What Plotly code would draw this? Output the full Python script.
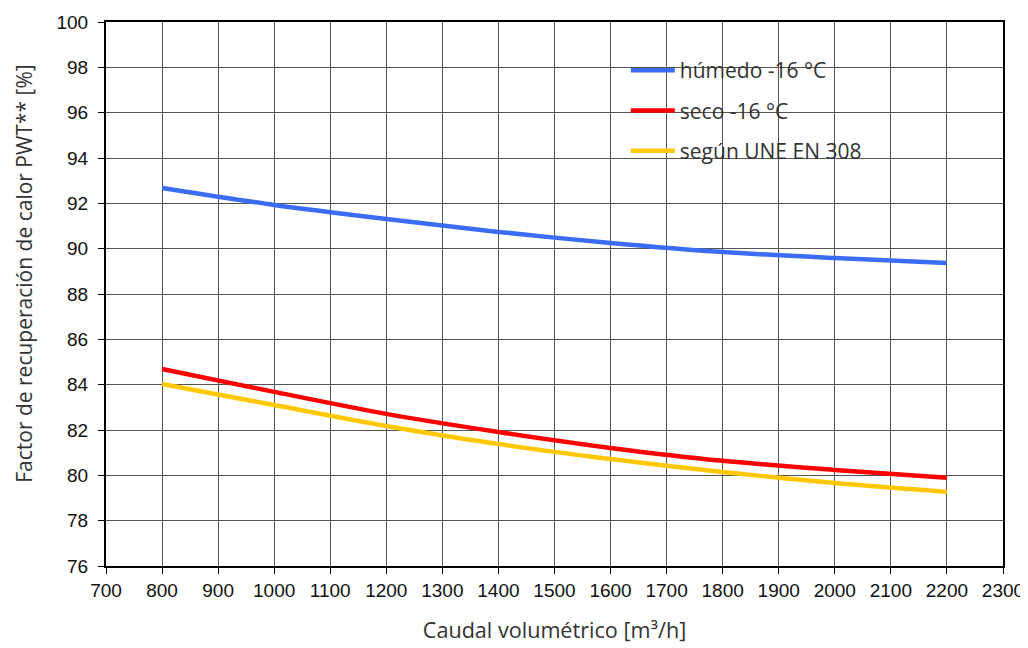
import plotly.graph_objects as go

flow = [800, 1000, 1200, 1400, 1600, 1800, 2000, 2200]
humedo = [92.68, 91.93, 91.31, 90.74, 90.25, 89.85, 89.59, 89.37]
seco = [84.69, 83.68, 82.71, 81.91, 81.21, 80.64, 80.24, 79.89]
une = [84.03, 83.10, 82.18, 81.38, 80.72, 80.15, 79.66, 79.27]

series = [
    ("húmedo -16 °C", humedo, "#3a6cf5"),
    ("seco -16 °C", seco, "#ff0000"),
    ("según UNE EN 308", une, "#ffc800"),
]

TXT = "#333333"

fig = go.Figure()
for i, (name, vals, col) in enumerate(series):
    fig.add_trace(go.Scatter(
        x=flow, y=vals, name=name, mode="lines",
        line=dict(color=col, width=4.5, shape="spline", smoothing=0.8),
        legendgroup=f"g{i}",
    ))

axis_common = dict(
    showline=True, linecolor="black", linewidth=2, mirror=True,
    showgrid=True, gridcolor="#555555", gridwidth=1,
    ticks="outside", ticklen=6, tickcolor="black", tickwidth=1,
    tickfont=dict(family="Liberation Sans, Arial", size=19, color="#111111"),
    zeroline=False, automargin=False,
)

fig.update_layout(
    width=1018, height=636,
    paper_bgcolor="white", plot_bgcolor="white",
    margin=dict(l=98, r=23, t=14, b=78),
    xaxis=dict(range=[700, 2300], dtick=100, tick0=700,
               title=dict(text="Caudal volumétrico [m³/h]", standoff=30,
                          font=dict(family="Open Sans", size=21.6, color=TXT)),
               **axis_common),
    yaxis=dict(range=[76, 100], dtick=2, tick0=76, ticklabelstandoff=6,
               **axis_common),
    annotations=[dict(
        text="Factor de recuperación de calor PWT** [%]",
        xref="paper", yref="paper", x=-0.0915, y=0.537,
        xanchor="center", yanchor="middle", textangle=-90, showarrow=False,
        font=dict(family="Open Sans", size=21, color=TXT),
    )],
    legend=dict(
        x=0.5795, y=0.9485, xanchor="left", yanchor="top",
        bgcolor="rgba(0,0,0,0)", borderwidth=0,
        font=dict(family="Open Sans", size=21, color=TXT),
        tracegroupgap=10, itemwidth=44,
    ),
    shapes=[dict(type="rect", xref="paper", yref="paper",
                 x0=0.5485, x1=0.969, y0=0.724, y1=0.952,
                 fillcolor="white", line=dict(width=0), layer="below")],
    showlegend=True,
)

fig.write_html("out.html")
